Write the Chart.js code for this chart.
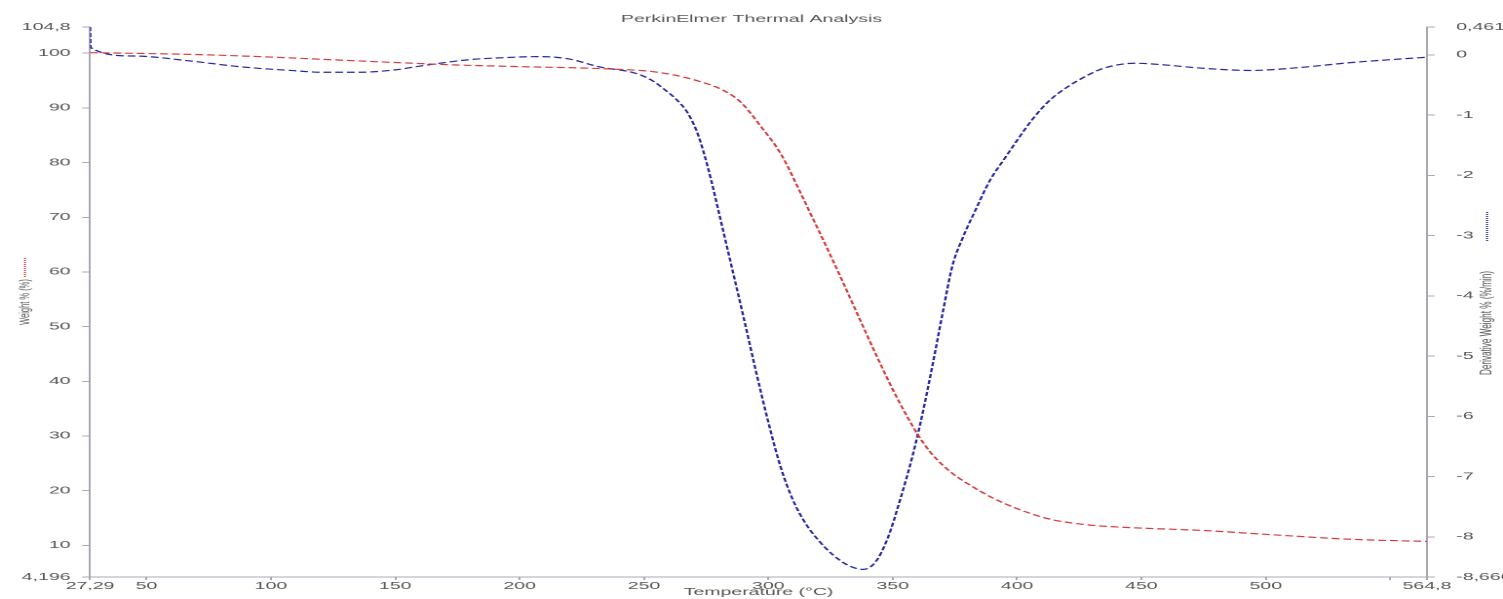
<!DOCTYPE html>
<html>
<head>
<meta charset="utf-8">
<title>PerkinElmer Thermal Analysis</title>
<script src="https://cdn.jsdelivr.net/npm/chart.js@4/dist/chart.umd.min.js"></script>
<style>
  html, body { margin: 0; padding: 0; background: #fff; overflow: hidden; }
  /* the source plot is stretched sideways, so the chart is laid out narrow and scaled in x */
  #wrap { position: absolute; left: 0; top: 0; width: 771px; height: 599px;
          transform: scaleX(1.94942); transform-origin: 0 0; }
</style>
</head>
<body>
<div id="wrap"><canvas id="tga"></canvas></div>
<script>
// weight % curve (left axis)
const weightTemps = [27.29, 50, 75, 100, 125, 150, 175, 200, 225, 240, 250, 260, 272, 282, 289, 297, 305, 313, 317, 320, 325, 330, 335, 340, 345, 350, 355, 360, 365, 370, 375, 380, 390, 400, 413, 427, 440, 455, 475, 500, 534, 564.8];
const weightValues = [100.1, 99.95, 99.7, 99.3, 98.8, 98.3, 97.85, 97.55, 97.3, 97.05, 96.8, 96.2, 94.9, 93.2, 91.0, 86.6, 81.6, 74.4, 70.6, 67.8, 63.0, 58.1, 53.1, 48.1, 43.2, 38.5, 34.2, 30.3, 27.1, 24.7, 22.8, 21.3, 18.7, 16.7, 14.8, 13.8, 13.35, 13.05, 12.7, 12.0, 11.1, 10.7];

// derivative weight % curve (right axis)
const derivTemps = [27.29, 27.5, 45, 67, 88, 108, 121, 135, 150, 161, 180, 195, 208, 220, 232, 246, 253, 259, 263, 266.5, 269, 271.5, 274, 277, 280, 284, 290, 295, 300, 305, 310, 315, 320, 326, 332, 338, 343, 348, 353, 358, 362, 366, 370, 374, 378, 383, 389, 395, 400, 406, 413, 420, 426.5, 433, 440, 447, 460, 473.5, 494, 514, 534, 554, 564.8];
const derivValues = [0.4613, 0.12, -0.02, -0.10, -0.20, -0.26, -0.29, -0.29, -0.25, -0.18, -0.08, -0.045, -0.03, -0.07, -0.20, -0.30, -0.42, -0.60, -0.74, -0.90, -1.07, -1.30, -1.62, -2.08, -2.60, -3.30, -4.35, -5.25, -6.10, -6.85, -7.40, -7.78, -8.05, -8.30, -8.47, -8.54, -8.42, -8.02, -7.38, -6.65, -5.95, -5.15, -4.30, -3.50, -3.05, -2.60, -2.09, -1.72, -1.42, -1.08, -0.76, -0.54, -0.38, -0.25, -0.17, -0.14, -0.17, -0.22, -0.26, -0.21, -0.13, -0.07, -0.04];

// tick positions
const tempTicks = [27.29, 50, 100, 150, 200, 250, 300, 350, 400, 450, 500, 550, 564.8];
const weightTicks = [4.196, 10, 20, 30, 40, 50, 60, 70, 80, 90, 100, 104.8];
const derivTicks = [-8.666, -8, -7, -6, -5, -4, -3, -2, -1, 0, 0.4613];

const redColor = '#d63c3c';
const blueColor = '#2626a0';
const textColor = '#555';
const axisColor = '#a8a8b4';

Chart.defaults.font.family = '"Liberation Sans", Arial, sans-serif';

function fmt(v) {
  if (v === 550) return '';
  return String(v).replace('.', ',');
}

function fixedTicks(list) {
  return scale => { scale.ticks = list.map(v => ({ value: v })); };
}

// rotated axis titles with their little series markers
const sideTitles = {
  id: 'sideTitles',
  afterDraw(chart) {
    const ctx = chart.ctx;
    const items = [
      { x: 12.8, y: 302, text: 'Weight % (%)', size: 7.5, color: redColor, m0: 258, m1: 277 },
      { x: 762.8, y: 323, text: 'Derivative Weight % (%/min)', size: 8.2, color: blueColor, m0: 212, m1: 242 }
    ];
    items.forEach(it => {
      ctx.save();
      ctx.strokeStyle = it.color;
      ctx.lineWidth = 1;
      ctx.setLineDash([1, 1]);
      ctx.beginPath();
      ctx.moveTo(it.x, it.m0);
      ctx.lineTo(it.x, it.m1);
      ctx.stroke();
      ctx.translate(it.x, it.y);
      ctx.rotate(-Math.PI / 2);
      ctx.fillStyle = textColor;
      ctx.font = it.size + 'px "Liberation Sans", Arial, sans-serif';
      ctx.textAlign = 'center';
      ctx.textBaseline = 'middle';
      ctx.fillText(it.text, 0, 0);
      ctx.restore();
    });
  }
};

const ctx = document.getElementById('tga').getContext('2d');
new Chart(ctx, {
  type: 'scatter',
  data: {
    datasets: [
      {
        label: 'Weight % (%)',
        data: weightTemps.map((t, i) => ({ x: t, y: weightValues[i] })),
        yAxisID: 'y',
        borderColor: redColor,
        borderWidth: 1.2,
        borderDash: [4, 2],
        showLine: true,
        pointRadius: 0,
        cubicInterpolationMode: 'monotone'
      },
      {
        label: 'Derivative Weight % (%/min)',
        data: derivTemps.map((t, i) => ({ x: t, y: derivValues[i] })),
        yAxisID: 'y1',
        borderColor: blueColor,
        borderWidth: 1.2,
        borderDash: [4, 2],
        showLine: true,
        pointRadius: 0,
        cubicInterpolationMode: 'monotone'
      }
    ]
  },
  options: {
    responsive: true,
    maintainAspectRatio: false,
    devicePixelRatio: 2,
    animation: false,
    layout: { padding: 0 },
    plugins: {
      legend: { display: false },
      tooltip: { enabled: false },
      title: {
        display: true,
        text: 'PerkinElmer Thermal Analysis',
        color: textColor,
        font: { size: 10, weight: 'normal' },
        padding: { top: 13, bottom: 2 }
      }
    },
    scales: {
      x: {
        type: 'linear',
        min: 27.29,
        max: 564.8,
        afterBuildTicks: fixedTicks(tempTicks),
        afterFit: s => { s.height = 22; },
        grid: { drawOnChartArea: false, tickLength: 3, color: axisColor },
        border: { color: axisColor, width: 1 },
        ticks: { autoSkip: false, maxRotation: 0, padding: 0, color: textColor, font: { size: 10 }, callback: fmt },
        title: { display: true, text: 'Temperature (°C)', color: textColor, font: { size: 10 }, padding: { top: 0, bottom: 1 } }
      },
      y: {
        position: 'left',
        min: 4.196,
        max: 104.8,
        afterBuildTicks: fixedTicks(weightTicks),
        afterFit: s => { s.width = 46.2; },
        grid: { drawOnChartArea: false, tickLength: 4, color: axisColor },
        border: { color: axisColor, width: 1 },
        ticks: { autoSkip: false, padding: 6, color: textColor, font: { size: 10 }, callback: fmt }
      },
      y1: {
        position: 'right',
        min: -8.666,
        max: 0.4613,
        afterBuildTicks: fixedTicks(derivTicks),
        afterFit: s => { s.width = 39; },
        grid: { drawOnChartArea: false, tickLength: 4, color: axisColor },
        border: { color: axisColor, width: 1 },
        ticks: { autoSkip: false, padding: 11, color: textColor, font: { size: 10 }, callback: fmt }
      }
    }
  },
  plugins: [sideTitles]
});
</script>
</body>
</html>
